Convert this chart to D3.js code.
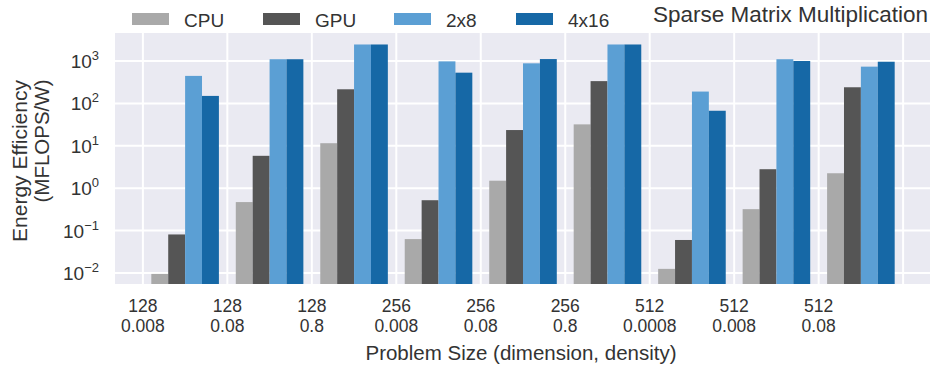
<!DOCTYPE html>
<html><head><meta charset="utf-8">
<script src="https://cdn.jsdelivr.net/npm/d3@7"></script>
<style>
body{margin:0;background:#fff;}
text{font-family:"Liberation Sans",Arial,sans-serif;fill:#333;}
</style></head>
<body><svg id="c" width="930" height="368"></svg>
<script>
const categoriesSize = ["128","128","128","256","256","256","512","512","512"];
const categoriesDensity = ["0.008","0.08","0.8","0.008","0.08","0.8","0.0008","0.008","0.08"];
const seriesNames = ["CPU","GPU","2x8","4x16"];
const cpu   = [0.0095, 0.47, 11.5, 0.063, 1.5, 32, 0.0125, 0.32, 2.25];
const gpu   = [0.081, 5.8, 215, 0.52, 23.5, 335, 0.060, 2.8, 240];
const b2x8  = [445, 1100, 2450, 980, 880, 2450, 190, 1100, 735];
const b4x16 = [150, 1100, 2450, 530, 1110, 2450, 67, 1000, 960];
const yTickExps = [-2,-1,0,1,2,3];
const colors = ["#a9a9a9","#555555","#5b9fd4","#1668a6"];

const series = [cpu,gpu,b2x8,b4x16];
const svg = d3.select("#c");
const L=115,R=931,T=33,B=284;
const x = d3.scaleLinear().domain([-0.33,9.33]).range([L,R]);
const y = d3.scaleLog().domain([Math.pow(10,-2.26),Math.pow(10,3.66)]).range([B,T]);

svg.append("rect").attr("x",L).attr("y",T).attr("width",R-L).attr("height",B-T).attr("fill","#eaeaf2");
const g = svg.append("g");
// grid
const xt = d3.range(0,10);
g.selectAll(".vg").data(xt).enter().append("line")
  .attr("x1",d=>x(d)).attr("x2",d=>x(d)).attr("y1",T).attr("y2",B)
  .attr("stroke","#fff").attr("stroke-width",2);
g.selectAll(".hg").data(yTickExps).enter().append("line")
  .attr("x1",L).attr("x2",R).attr("y1",d=>y(Math.pow(10,d))).attr("y2",d=>y(Math.pow(10,d)))
  .attr("stroke","#fff").attr("stroke-width",2);
// bars
const bw = 0.2;
series.forEach((s,j)=>{
  g.selectAll(".b"+j).data(s).enter().append("rect")
    .attr("x",(d,i)=>x(i+0.1+j*bw))
    .attr("width",(d,i)=>x(i+0.1+(j+1)*bw)-x(i+0.1+j*bw))
    .attr("y",d=>y(d)).attr("height",d=>B-y(d))
    .attr("fill",colors[j]);
});
// x tick labels
const xl = svg.append("g");
categoriesSize.forEach((c,i)=>{
  xl.append("text").attr("x",x(i)).attr("y",312).attr("text-anchor","middle").style("font-size","17.5px").text(c);
  xl.append("text").attr("x",x(i)).attr("y",332).attr("text-anchor","middle").style("font-size","17.5px").text(categoriesDensity[i]);
});
// y tick labels
yTickExps.forEach(e=>{
  const t = svg.append("text").attr("x",99).attr("y",y(Math.pow(10,e))+7).attr("text-anchor","end").style("font-size","19px");
  t.append("tspan").text("10");
  t.append("tspan").attr("dy",-8).style("font-size","13px").text(e<0?"\u2212"+(-e):String(e));
});
// axis labels
svg.append("text").attr("x",(L+R)/2-2).attr("y",360).attr("text-anchor","middle").style("font-size","20.5px")
  .text("Problem Size (dimension, density)");
svg.append("text").attr("transform","translate(27,161) rotate(-90)").attr("text-anchor","middle").style("font-size","21px")
  .text("Energy Efficiency");
svg.append("text").attr("transform","translate(49,141) rotate(-90)").attr("text-anchor","middle").style("font-size","20.5px")
  .text("(MFLOPS/W)");
// legend
const legX=[132,263,394,516];
seriesNames.forEach((n,j)=>{
  svg.append("rect").attr("x",legX[j]).attr("y",13).attr("width",37).attr("height",12).attr("fill",colors[j]);
  svg.append("text").attr("x",legX[j]+52).attr("y",27).style("font-size","19px").text(n);
});
// title
svg.append("text").attr("x",928).attr("y",22).attr("text-anchor","end").style("font-size","22.5px")
  .text("Sparse Matrix Multiplication");
</script></body></html>
